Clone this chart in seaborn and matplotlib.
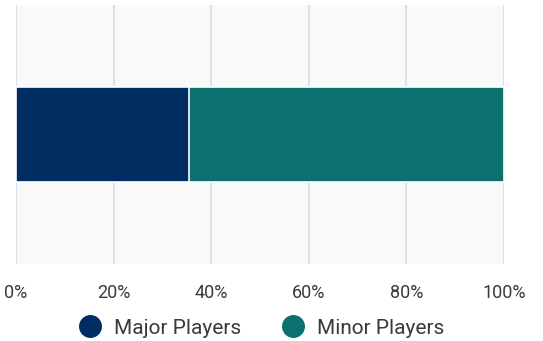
import matplotlib
matplotlib.use("Agg")
import matplotlib.pyplot as plt
from matplotlib.lines import Line2D
import seaborn as sns
import pandas as pd

# Market share split (percent)
segments = ["Major Players", "Minor Players"]
shares = [35.5, 64.5]
colors = ["#002d62", "#0b706e"]
tick_values = [0, 20, 40, 60, 80, 100]
tick_labels = ["0%", "20%", "40%", "60%", "80%", "100%"]

sns.set_theme(style="white")
plt.rcParams["font.family"] = ["Roboto", "DejaVu Sans"]

fig = plt.figure(figsize=(5.43, 3.41), dpi=100)
ax = fig.add_axes([16 / 543, 1 - 264 / 341, 488 / 543, 259 / 341])
ax.set_facecolor("#f9f9f9")

# Stacked horizontal bar: draw cumulative totals back to front
cumulative = pd.Series(shares).cumsum().tolist()
for seg, total, col in reversed(list(zip(segments, cumulative, colors))):
    df = pd.DataFrame({"share": [total], "row": [""]})
    sns.barplot(data=df, x="share", y="row", orient="h", color=col,
                saturation=1, width=0.37, edgecolor="white", linewidth=1.2,
                ax=ax, zorder=3)

ax.set_xlim(0, 100)
ax.set_ylim(0.5, -0.5)
ax.set_xticks(tick_values)
ax.set_xticklabels(tick_labels, fontsize=13, color="#3a3a3a")
ax.set_yticks([])
ax.set_xlabel("")
ax.set_ylabel("")
ax.tick_params(axis="x", length=0, pad=14.5)
ax.grid(axis="x", color="#dcdfec", linewidth=1.5, zorder=0)
ax.set_axisbelow(True)
for s in ax.spines.values():
    s.set_visible(False)

handles = [Line2D([0], [0], marker="o", linestyle="", markersize=15.5,
                  markerfacecolor=c, markeredgecolor=c, label=s)
           for s, c in zip(segments, colors)]
fig.legend(handles=handles, loc="center", bbox_to_anchor=(261 / 543, 1 - 328 / 341),
           ncol=2, frameon=False, fontsize=15, handlelength=1.2,
           handletextpad=0.55, columnspacing=1.9, labelcolor="#3a3a3a",
           borderpad=0, borderaxespad=0)

fig.savefig("out.png", dpi=100)
